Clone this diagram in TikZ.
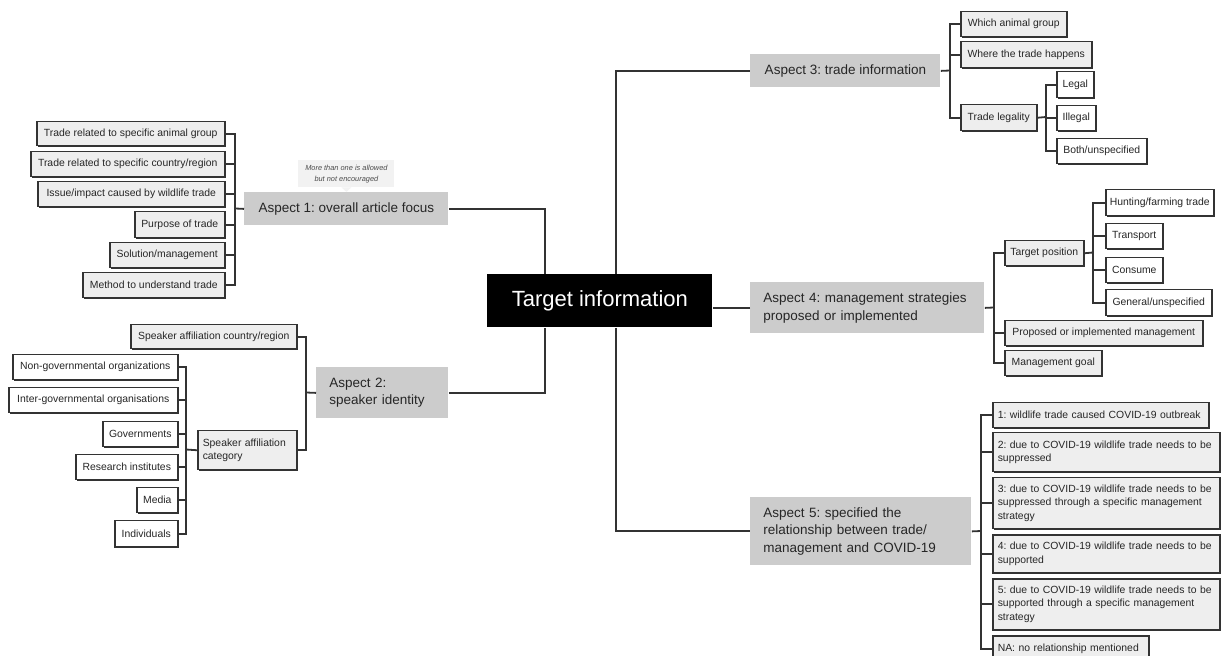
\documentclass[tikz,border=0pt]{standalone}
\usepackage{fontspec}
\setmainfont{Liberation Sans}
\usetikzlibrary{shadows}
\definecolor{bord}{HTML}{333333}
\definecolor{leafg}{HTML}{EEEEEE}
\definecolor{aspg}{HTML}{CCCCCC}
\definecolor{callg}{HTML}{F2F2F2}
\newcommand\mybox[7]{%
  \pgfmathsetmacro\bw{(#4-#2)*0.5}%
  \pgfmathsetmacro\bh{(#5-#3)*0.5}%
  \pgfmathsetmacro\twA{(#4-#2)*0.5-13}%
  \pgfmathsetmacro\twB{(#4-#2)*0.5-5}%
  \node[#6, anchor=north west, minimum width=\bw pt, minimum height=\bh pt] (#1) at (#2,#3) {#7};}
\AtBeginDocument{\frenchspacing}
\begin{document}
\begin{tikzpicture}[x=0.5pt,y=-0.5pt,
  leafbox/.style={draw=bord, line width=0.75pt, fill=leafg, inner sep=0pt,
    font=\frenchspacing\fontsize{5.2}{6.6}\selectfont, text=black!85,
    drop shadow={shadow xshift=0.7pt, shadow yshift=-0.7pt, opacity=1, fill=bord}},
  whitebox/.style={leafbox, fill=white},
  aspbox/.style={fill=aspg, inner sep=0pt, font=\frenchspacing\fontsize{6.75}{8.7}\selectfont, text=black!85},
  centerbox/.style={fill=black, text=white, inner sep=0pt, font=\fontsize{11}{13}\selectfont},
  callbox/.style={fill=callg, inner sep=0pt, align=center, text=black!70,
    font=\fontsize{3.7}{5.5}\selectfont\itshape},
  lefttext/.style={text width=\twB pt, align=left, inner xsep=2.5pt},
  asplefttext/.style={text width=\twA pt, align=left, inner xsep=6.5pt},
  conn/.style={draw=bord, line width=0.9pt}]
\useasboundingbox (0,0) rectangle (1224,656);
\clip (0,0) rectangle (1224,656);
\fill[white] (0,0) rectangle (1224,656);

% centre
\mybox{C}{487}{274}{712}{327}{centerbox}{Target information}

% aspect 1
\mybox{A1}{244}{192}{448}{225}{aspbox}{Aspect 1: overall article focus}
\mybox{call}{298}{160}{394}{187}{callbox}{More than one is allowed\\but not encouraged}
\fill[callg] (call.south) ++(-5,-0.5) -- ++(10,0) -- ++(-5,4.5) -- cycle;
\mybox{a1}{36}{121}{224}{145}{leafbox}{Trade related to specific animal group}
\mybox{a2}{30}{151}{224}{176}{leafbox}{Trade related to specific country/region}
\mybox{a3}{37}{181}{224}{206}{leafbox}{Issue/impact caused by wildlife trade}
\mybox{a4}{134}{211}{224}{237}{leafbox}{Purpose of trade}
\mybox{a5}{109}{242}{224}{267}{leafbox}{Solution/management}
\mybox{a6}{82}{272}{224}{297}{leafbox}{Method to understand trade}
\coordinate (j1) at (235,208.5);
\draw[conn] (A1.west) -- (j1);
\foreach \n in {a1,a2,a3,a4,a5,a6} \draw[conn] (\n.east) -| (j1);
\draw[conn] (A1.east) -| ([xshift=29pt]C.north west);

% aspect 2
\mybox{A2}{316}{367}{448}{418}{aspbox,asplefttext}{Aspect 2:\\speaker identity}
\mybox{sacr}{130}{324}{296}{348}{leafbox}{Speaker affiliation country/region}
\mybox{cat}{197}{430}{296}{469}{leafbox,lefttext}{Speaker affiliation\\category}
\mybox{b1}{12}{354}{177}{379}{whitebox}{Non-governmental organizations}
\mybox{b2}{8}{387}{177}{412}{whitebox}{Inter-governmental organisations}
\mybox{b3}{102}{421}{177}{446}{whitebox}{Governments}
\mybox{b4}{75}{454}{177}{479}{whitebox}{Research institutes}
\mybox{b5}{136}{487}{177}{512}{whitebox}{Media}
\mybox{b6}{114}{520}{177}{546}{whitebox}{Individuals}
\coordinate (j2) at (306,392.5);
\draw[conn] (A2.west) -- (j2);
\draw[conn] (sacr.east) -| (j2);
\draw[conn] (cat.east) -| (j2);
\coordinate (j2b) at (186,449.5);
\draw[conn] (cat.west) -- (j2b);
\foreach \n in {b1,b2,b3,b4,b5,b6} \draw[conn] (\n.east) -| (j2b);
\draw[conn] (A2.east) -| ([xshift=29pt]C.south west);

% aspect 3
\mybox{A3}{750}{54}{940}{87}{aspbox}{Aspect 3: trade information}
\mybox{which}{960}{11}{1066}{36}{leafbox}{Which animal group}
\mybox{where}{960}{41}{1091}{67}{leafbox}{Where the trade happens}
\mybox{tl}{960}{104}{1036}{130}{leafbox}{Trade legality}
\mybox{legal}{1056}{71}{1093}{97}{whitebox}{Legal}
\mybox{illegal}{1056}{105}{1095}{130}{whitebox}{Illegal}
\mybox{both}{1056}{138}{1146}{163}{whitebox}{Both/unspecified}
\coordinate (j3) at (950,70.5);
\draw[conn] (A3.east) -- (j3);
\foreach \n in {which,where,tl} \draw[conn] (\n.west) -| (j3);
\coordinate (j3b) at (1046,117);
\draw[conn] (tl.east) -- (j3b);
\foreach \n in {legal,illegal,both} \draw[conn] (\n.west) -| (j3b);
\draw[conn] ([xshift=-48.5pt]C.north east) |- (A3.west);

% aspect 4
\mybox{A4}{750}{282}{984}{333}{aspbox,asplefttext}{Aspect 4: management strategies\\proposed or implemented}
\mybox{tp}{1004}{240}{1083}{265}{leafbox}{Target position}
\mybox{hunt}{1105}{189}{1213}{215}{whitebox}{Hunting/farming trade}
\mybox{transp}{1105}{223}{1162}{248}{whitebox}{Transport}
\mybox{consume}{1105}{257}{1162}{282}{whitebox}{Consume}
\mybox{general}{1105}{289}{1211}{315}{whitebox}{General/unspecified}
\mybox{prop}{1004}{320}{1202}{345}{leafbox}{Proposed or implemented management}
\mybox{goal}{1004}{350}{1101}{375}{leafbox}{Management goal}
\coordinate (j4) at (994,307.5);
\draw[conn] (A4.east) -- (j4);
\foreach \n in {tp,prop,goal} \draw[conn] (\n.west) -| (j4);
\coordinate (j4b) at (1093,252.5);
\draw[conn] (tp.east) -- (j4b);
\foreach \n in {hunt,transp,consume,general} \draw[conn] (\n.west) -| (j4b);
\draw[conn] (A4.west) -- (A4.west -| C.east);

% aspect 5
\mybox{A5}{750}{497}{971}{565}{aspbox,asplefttext}{Aspect 5: specified the\\relationship between trade/\\management and COVID-19}
\mybox{r1}{992}{402}{1208}{427}{leafbox,lefttext}{1: wildlife trade caused COVID-19 outbreak}
\mybox{r2}{992}{432}{1219}{471}{leafbox,lefttext}{2: due to COVID-19 wildlife trade needs to be\\suppressed}
\mybox{r3}{992}{477}{1219}{528}{leafbox,lefttext}{3: due to COVID-19 wildlife trade needs to be\\suppressed through a specific management\\strategy}
\mybox{r4}{992}{534}{1219}{572}{leafbox,lefttext}{4: due to COVID-19 wildlife trade needs to be\\supported}
\mybox{r5}{992}{578}{1219}{629}{leafbox,lefttext}{5: due to COVID-19 wildlife trade needs to be\\supported through a specific management\\strategy}
\mybox{r6}{992}{635}{1148}{662}{leafbox,lefttext}{NA: no relationship mentioned}
\coordinate (j5) at (981,531);
\draw[conn] (A5.east) -- (j5);
\foreach \n in {r1,r2,r3,r4,r5,r6} \draw[conn] (\n.west) -| (j5);
\draw[conn] ([xshift=-48.5pt]C.south east) |- (A5.west);
\end{tikzpicture}
\end{document}
